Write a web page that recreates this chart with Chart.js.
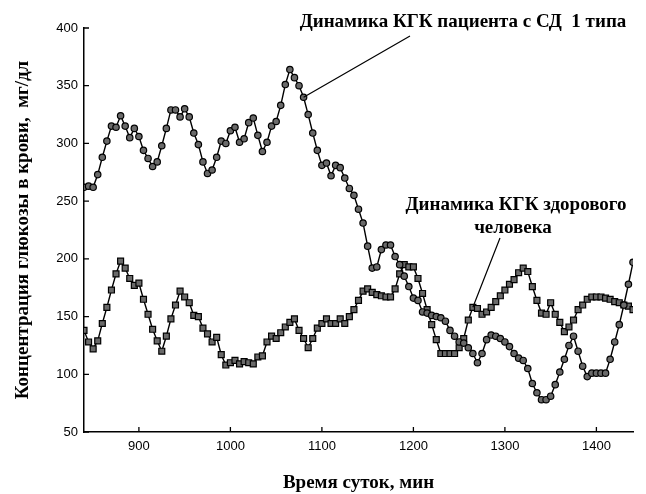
<!DOCTYPE html>
<html>
<head>
<meta charset="utf-8">
<script src="https://cdn.jsdelivr.net/npm/chart.js@4.4.1/dist/chart.umd.min.js"></script>
<style>
  html, body { margin: 0; padding: 0; background: #fff; }
  #wrap { width: 646px; height: 494px; }
</style>
</head>
<body>
<div id="wrap"><canvas id="chart" width="646" height="494"></canvas></div>
<script>
// Time of day, minutes (every 5 min from 14:00 to 24:00)
const minutes = [
  840, 845, 850, 855, 860, 865, 870, 875, 880, 885, 890, 895, 900, 905, 910, 915, 920, 925, 930, 935,
  940, 945, 950, 955, 960, 965, 970, 975, 980, 985, 990, 995, 1000, 1005, 1010, 1015, 1020, 1025, 1030, 1035,
  1040, 1045, 1050, 1055, 1060, 1065, 1070, 1075, 1080, 1085, 1090, 1095, 1100, 1105, 1110, 1115, 1120, 1125, 1130, 1135,
  1140, 1145, 1150, 1155, 1160, 1165, 1170, 1175, 1180, 1185, 1190, 1195, 1200, 1205, 1210, 1215, 1220, 1225, 1230, 1235,
  1240, 1245, 1250, 1255, 1260, 1265, 1270, 1275, 1280, 1285, 1290, 1295, 1300, 1305, 1310, 1315, 1320, 1325, 1330, 1335,
  1340, 1345, 1350, 1355, 1360, 1365, 1370, 1375, 1380, 1385, 1390, 1395, 1400, 1405, 1410, 1415, 1420, 1425, 1430, 1435,
  1440
];

// Patient with type 1 diabetes (circles)
const diabetic = [
  262, 263, 262, 273, 288, 302, 315, 314, 324, 315, 305, 313, 306, 294, 287, 280, 284, 298, 313, 329,
  329, 323, 330, 323, 309, 299, 284, 274, 277, 288, 302, 300, 311, 314, 301, 304, 318, 322, 307, 293,
  301, 315, 319, 333, 351, 364, 357, 350, 340, 325, 309, 294, 281, 283, 272, 281, 279, 270, 261, 255,
  243, 231, 211, 192, 193, 208, 212, 212, 202, 195, 185, 176, 166, 164, 154, 153, 151, 150, 149, 146,
  138, 133, 128, 127, 123, 118, 110, 118, 130, 134, 133, 131, 128, 124, 118, 114, 112, 105, 92, 84,
  78, 78, 81, 91, 102, 113, 125, 133, 120, 107, 98, 101, 101, 101, 101, 113, 128, 143, 160, 178,
  197
];

// Healthy person (squares)
const healthy = [
  138, 128, 122, 129, 144, 158, 173, 187, 198, 192, 183, 177, 179, 165, 152, 139, 129, 120, 133, 148,
  160, 172, 167, 162, 151, 150, 140, 135, 128, 132, 117, 108, 110, 112, 109, 111, 110, 109, 115, 116,
  128, 133, 131, 136, 141, 145, 148, 138, 131, 123, 131, 140, 144, 148, 144, 144, 148, 144, 150, 156,
  164, 172, 174, 171, 169, 168, 167, 167, 174, 187, 195, 193, 193, 183, 170, 156, 143, 130, 118, 118,
  118, 118, 123, 131, 147, 158, 157, 152, 154, 158, 163, 168, 173, 178, 182, 188, 192, 189, 176, 164,
  153, 152, 162, 152, 145, 137, 141, 147, 156, 160, 165, 167, 167, 167, 166, 165, 163, 162, 160, 159,
  156
];

const xTicks = [900, 1000, 1100, 1200, 1300, 1400];
const yTicks = [50, 100, 150, 200, 250, 300, 350, 400];

const serifBold = 'bold 19px "Liberation Serif", "DejaVu Serif", serif';

// Inward tick marks and the two callouts
const extras = {
  id: 'extras',
  afterDraw(chart) {
    const { ctx, scales: { x, y } } = chart;
    ctx.save();
    ctx.strokeStyle = '#000';
    ctx.lineWidth = 1.3;
    ctx.beginPath();
    xTicks.forEach(v => {
      const px = x.getPixelForValue(v);
      ctx.moveTo(px, y.bottom);
      ctx.lineTo(px, y.bottom - 5);
    });
    yTicks.forEach(v => {
      const py = y.getPixelForValue(v);
      ctx.moveTo(x.left, py);
      ctx.lineTo(x.left + 5, py);
    });
    ctx.stroke();

    // leader lines
    ctx.lineWidth = 1.2;
    ctx.beginPath();
    ctx.moveTo(x.getPixelForValue(1080), y.getPixelForValue(340));
    ctx.lineTo(410, 36);
    ctx.moveTo(x.getPixelForValue(1265), y.getPixelForValue(158));
    ctx.lineTo(500, 238);
    ctx.stroke();

    ctx.fillStyle = '#000';
    ctx.font = serifBold;
    ctx.textAlign = 'center';
    ctx.textBaseline = 'middle';
    ctx.fillText('Динамика КГК пациента с СД  1 типа', 463, 22);
    ctx.fillText('Динамика КГК здорового', 516, 205);
    ctx.fillText('человека', 513, 228);
    ctx.restore();
  }
};

new Chart(document.getElementById('chart'), {
  type: 'line',
  data: {
    datasets: [
      {
        label: 'СД 1 типа',
        data: minutes.map((t, i) => ({ x: t, y: diabetic[i] })),
        borderColor: '#000',
        borderWidth: 1.4,
        pointStyle: 'circle',
        pointRadius: 3.2,
        pointBackgroundColor: '#6a6a6a',
        pointBorderColor: '#000',
        pointBorderWidth: 1.2,
        tension: 0
      },
      {
        label: 'Здоровый',
        data: minutes.map((t, i) => ({ x: t, y: healthy[i] })),
        borderColor: '#000',
        borderWidth: 1.4,
        pointStyle: 'rect',
        pointRadius: 4.2,
        pointBackgroundColor: '#6a6a6a',
        pointBorderColor: '#000',
        pointBorderWidth: 1.2,
        tension: 0
      }
    ]
  },
  options: {
    responsive: false,
    animation: false,
    layout: { padding: { left: 0, top: 28, right: 13, bottom: 0 } },
    plugins: {
      legend: { display: false },
      tooltip: { enabled: false }
    },
    scales: {
      x: {
        type: 'linear',
        min: 840,
        max: 1440,
        afterBuildTicks: s => { s.ticks = xTicks.map(v => ({ value: v })); },
        afterFit: s => { s.height = 62; },
        grid: { display: true, drawOnChartArea: false, drawTicks: false },
        border: { display: true, color: '#000', width: 1.5 },
        ticks: {
          color: '#000',
          padding: 7,
          callback: v => String(v),
          font: { family: '"Liberation Sans", Arial, sans-serif', size: 13 }
        },
        title: {
          display: true,
          text: 'Время суток, мин',
          color: '#000',
          font: { family: '"Liberation Serif", serif', size: 19, weight: 'bold' },
          padding: { top: 0, bottom: 0 }
        }
      },
      y: {
        min: 50,
        max: 400,
        afterBuildTicks: s => { s.ticks = yTicks.map(v => ({ value: v })); },
        afterFit: s => { s.width = 84; },
        grid: { display: true, drawOnChartArea: false, drawTicks: false },
        border: { display: true, color: '#000', width: 1.5 },
        ticks: {
          color: '#000',
          padding: 6,
          callback: v => String(v),
          font: { family: '"Liberation Sans", Arial, sans-serif', size: 13 }
        },
        title: {
          display: true,
          text: 'Концентрация глюкозы в крови,  мг/дл',
          color: '#000',
          font: { family: '"Liberation Serif", serif', size: 19, weight: 'bold' },
          padding: { top: 12, bottom: 0 }
        }
      }
    }
  },
  plugins: [extras]
});
</script>
</body>
</html>
